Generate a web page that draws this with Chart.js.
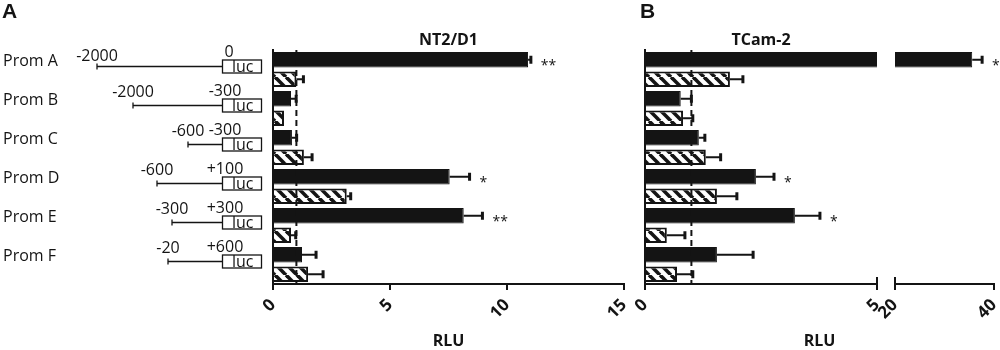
<!DOCTYPE html>
<html>
<head>
<meta charset="utf-8">
<script src="https://cdn.jsdelivr.net/npm/chart.js@4"></script>
<style>
  body { margin: 0; background: #fff; }
  #wrap { position: relative; width: 1000px; height: 350px; }
  #wrap canvas { position: absolute; left: 0; top: 0; }
</style>
</head>
<body>
<div id="wrap">
  <canvas id="chart-a" width="1000" height="350"></canvas>
  <canvas id="chart-b1" width="1000" height="350"></canvas>
  <canvas id="chart-b2" width="1000" height="350"></canvas>
</div>
<script>
// ---- data ----
const promoters = ['Prom A', 'Prom B', 'Prom C', 'Prom D', 'Prom E', 'Prom F'];
const startLabels = ['-2000', '-2000', '-600', '-600', '-300', '-20'];
const endLabels = ['0', '-300', '-300', '+100', '+300', '+600'];

// NT2/D1 (panel A)
const nt2Black = [10.9, 0.77, 0.81, 7.55, 8.15, 1.24];
const nt2BlackErr = [0.12, 0.22, 0.2, 0.85, 0.8, 0.6];
const nt2Hatched = [1.0, 0.47, 1.32, 3.15, 0.77, 1.5];
const nt2HatchedErr = [0.3, 0, 0.35, 0.17, 0.2, 0.64];
const nt2Stars = ['**', '', '', '*', '**', ''];
const nt2Ticks = [0, 5, 10, 15];

// TCam-2 (panel B, broken axis)
const tcamBlack = [35.6, 0.77, 1.16, 2.39, 3.23, 1.55];
const tcamBlackErr = [2.0, 0.23, 0.13, 0.39, 0.54, 0.78];
const tcamHatched = [1.83, 0.82, 1.31, 1.55, 0.47, 0.69];
const tcamHatchedErr = [0.28, 0.21, 0.32, 0.43, 0.39, 0.34];
const tcamStars = ['*', '', '', '*', '*', ''];
const tcamLowTicks = [0, 5];
const tcamHighTicks = [20, 40];

const refLine = 1; // dashed line at RLU = 1

// ---- layout (pixels) ----
const PLOT_TOP = 50;
const AXIS_H = 66;
const areaA = [273, 624];
const areaB1 = [645, 877];
const areaB2 = [895, 994];
const diagramStartX = [97, 133, 188, 157, 172, 168]; // where each promoter line begins
const INK = '#141414';
const FONT = '"Open Sans", sans-serif';

function makeHatch() {
    const s = 11;
    const c = document.createElement('canvas');
    c.width = s;
    c.height = s;
    const g = c.getContext('2d');
    g.fillStyle = '#fff';
    g.fillRect(0, 0, s, s);
    g.strokeStyle = INK;
    g.lineWidth = 3.6;
    for (let k = -1; k <= 1; k++) {
        g.beginPath();
        g.moveTo(k * s, 0);
        g.lineTo(k * s + s, s);
        g.stroke();
    }
    return document.getElementById('chart-a').getContext('2d').createPattern(c, 'repeat');
}
const hatch = makeHatch();

function buildDatasets(black, hatched) {
    const common = { categoryPercentage: 1, barPercentage: 0.8, clip: 0 };
    return [
        Object.assign({ data: black, backgroundColor: INK, borderColor: INK, borderWidth: 1 }, common),
        Object.assign({ data: hatched, backgroundColor: hatch, borderColor: INK, borderWidth: 2 }, common)
    ];
}

function buildOptions(area, min, max, ticks, showY) {
    return {
        responsive: false,
        animation: false,
        indexAxis: 'y',
        layout: { padding: { left: area[0], right: 1000 - area[1], top: PLOT_TOP, bottom: 0 } },
        plugins: { legend: { display: false }, tooltip: { enabled: false } },
        scales: {
            x: {
                min: min,
                max: max,
                afterBuildTicks: (s) => { s.ticks = ticks.map(v => ({ value: v })); },
                afterFit: (s) => {
                    s.height = AXIS_H;
                    s.paddingLeft = 0; // keep the plot edges where the padding puts them
                    s.paddingRight = 0;
                },
                grid: { drawOnChartArea: false, color: INK, lineWidth: 2, tickLength: 6 },
                border: { display: true, color: INK, width: 2 },
                ticks: {
                    color: INK,
                    font: { family: FONT, size: 17, weight: 'bold' },
                    minRotation: 45,
                    maxRotation: 45,
                    padding: 5
                }
            },
            y: {
                display: showY,
                afterFit: (s) => { s.width = 0; },
                grid: { display: false },
                border: { display: true, color: INK, width: 2 },
                ticks: { display: false }
            }
        }
    };
}

// error bars (one-sided), significance stars, dashed reference line
function overlayPlugin(errors, stars, withRef) {
    return {
        id: 'overlay',
        afterDatasetsDraw(chart) {
            const ctx = chart.ctx;
            const xs = chart.scales.x;
            const area = chart.chartArea;
            ctx.save();
            ctx.strokeStyle = INK;
            ctx.fillStyle = INK;
            if (withRef) {
                const rx = xs.getPixelForValue(refLine);
                ctx.lineWidth = 2;
                ctx.setLineDash([6, 4]);
                ctx.beginPath();
                ctx.moveTo(rx, area.top);
                ctx.lineTo(rx, area.bottom);
                ctx.stroke();
                ctx.setLineDash([]);
            }
            chart.data.datasets.forEach((ds, d) => {
                const meta = chart.getDatasetMeta(d);
                meta.data.forEach((bar, i) => {
                    const v = ds.data[i];
                    const e = errors[d][i];
                    if (v < xs.min || v + e > xs.max) return;
                    const ex = xs.getPixelForValue(v + e);
                    if (e > 0) {
                        ctx.lineWidth = 2;
                        ctx.beginPath();
                        ctx.moveTo(bar.x, bar.y);
                        ctx.lineTo(ex, bar.y);
                        ctx.stroke();
                        ctx.lineWidth = 3;
                        ctx.beginPath();
                        ctx.moveTo(ex, bar.y - 4);
                        ctx.lineTo(ex, bar.y + 4);
                        ctx.stroke();
                    }
                    if (d === 0 && stars[i]) {
                        ctx.font = '14px ' + FONT;
                        ctx.textAlign = 'left';
                        ctx.textBaseline = 'alphabetic';
                        ctx.fillText(stars[i], ex + 10, bar.y + 10);
                    }
                });
            });
            ctx.restore();
        }
    };
}

// promoter constructs drawn to the left of panel A, plus panel texts
const diagramPlugin = {
    id: 'diagram',
    afterDraw(chart) {
        const ctx = chart.ctx;
        const ys = chart.scales.y;
        const area = chart.chartArea;
        ctx.save();
        ctx.fillStyle = INK;
        ctx.strokeStyle = INK;

        ctx.font = 'bold 21px "Liberation Sans", sans-serif';
        ctx.textAlign = 'left';
        ctx.textBaseline = 'middle';
        ctx.fillText('A', 2, 12);

        ctx.font = 'bold 16px ' + FONT;
        ctx.textAlign = 'center';
        ctx.fillText('NT2/D1', (area.left + area.right) / 2, 40);
        ctx.fillText('RLU', (area.left + area.right) / 2, 341);

        promoters.forEach((name, i) => {
            const cy = ys.getPixelForValue(i) - 3;
            const sx = diagramStartX[i];

            ctx.font = '16px ' + FONT;
            ctx.textAlign = 'left';
            ctx.textBaseline = 'middle';
            ctx.fillText(name, 3, cy - 5);

            // promoter line with start tick
            ctx.lineWidth = 1.3;
            ctx.beginPath();
            ctx.moveTo(sx, cy);
            ctx.lineTo(222, cy);
            ctx.moveTo(sx, cy - 3);
            ctx.lineTo(sx, cy + 3);
            ctx.stroke();

            // luc box
            ctx.fillStyle = '#fff';
            ctx.fillRect(222, cy - 6, 39, 13);
            ctx.strokeRect(222.5, cy - 6.5, 39, 13);
            ctx.fillStyle = INK;
            ctx.font = '16px ' + FONT;
            ctx.fillText('luc', 232, cy + 1);

            ctx.textAlign = 'center';
            ctx.fillText(startLabels[i], sx, i === 0 ? cy - 10 : cy - 13);
            ctx.fillText(endLabels[i], endLabels[i] === '0' ? 229 : 225, cy - 14);
        });
        ctx.restore();
    }
};

const panelBPlugin = {
    id: 'panelB',
    afterDraw(chart) {
        const ctx = chart.ctx;
        const area = chart.chartArea;
        ctx.save();
        ctx.fillStyle = INK;
        ctx.strokeStyle = INK;
        ctx.font = 'bold 21px "Liberation Sans", sans-serif';
        ctx.textAlign = 'left';
        ctx.textBaseline = 'middle';
        ctx.fillText('B', 640, 12);
        ctx.font = 'bold 16px ' + FONT;
        ctx.textAlign = 'center';
        ctx.fillText('TCam-2', (area.left + area.right) / 2, 40);
        ctx.fillText('RLU', (areaB1[0] + areaB2[1]) / 2, 341);
        // axis break marks
        ctx.lineWidth = 2;
        [areaB1[1], areaB2[0]].forEach(bx => {
            ctx.beginPath();
            ctx.moveTo(bx, area.bottom - 7);
            ctx.lineTo(bx, area.bottom + 1);
            ctx.stroke();
        });
        ctx.restore();
    }
};

new Chart(document.getElementById('chart-a'), {
    type: 'bar',
    data: { labels: promoters, datasets: buildDatasets(nt2Black, nt2Hatched) },
    options: buildOptions(areaA, nt2Ticks[0], nt2Ticks[nt2Ticks.length - 1], nt2Ticks, true),
    plugins: [overlayPlugin([nt2BlackErr, nt2HatchedErr], nt2Stars, true), diagramPlugin]
});

new Chart(document.getElementById('chart-b1'), {
    type: 'bar',
    data: { labels: promoters, datasets: buildDatasets(tcamBlack, tcamHatched) },
    options: buildOptions(areaB1, tcamLowTicks[0], tcamLowTicks[1], tcamLowTicks, true),
    plugins: [overlayPlugin([tcamBlackErr, tcamHatchedErr], tcamStars, true), panelBPlugin]
});

new Chart(document.getElementById('chart-b2'), {
    type: 'bar',
    data: { labels: promoters, datasets: buildDatasets(tcamBlack, tcamHatched) },
    options: buildOptions(areaB2, tcamHighTicks[0], tcamHighTicks[1], tcamHighTicks, false),
    plugins: [overlayPlugin([tcamBlackErr, tcamHatchedErr], tcamStars, false)]
});
</script>
</body>
</html>
